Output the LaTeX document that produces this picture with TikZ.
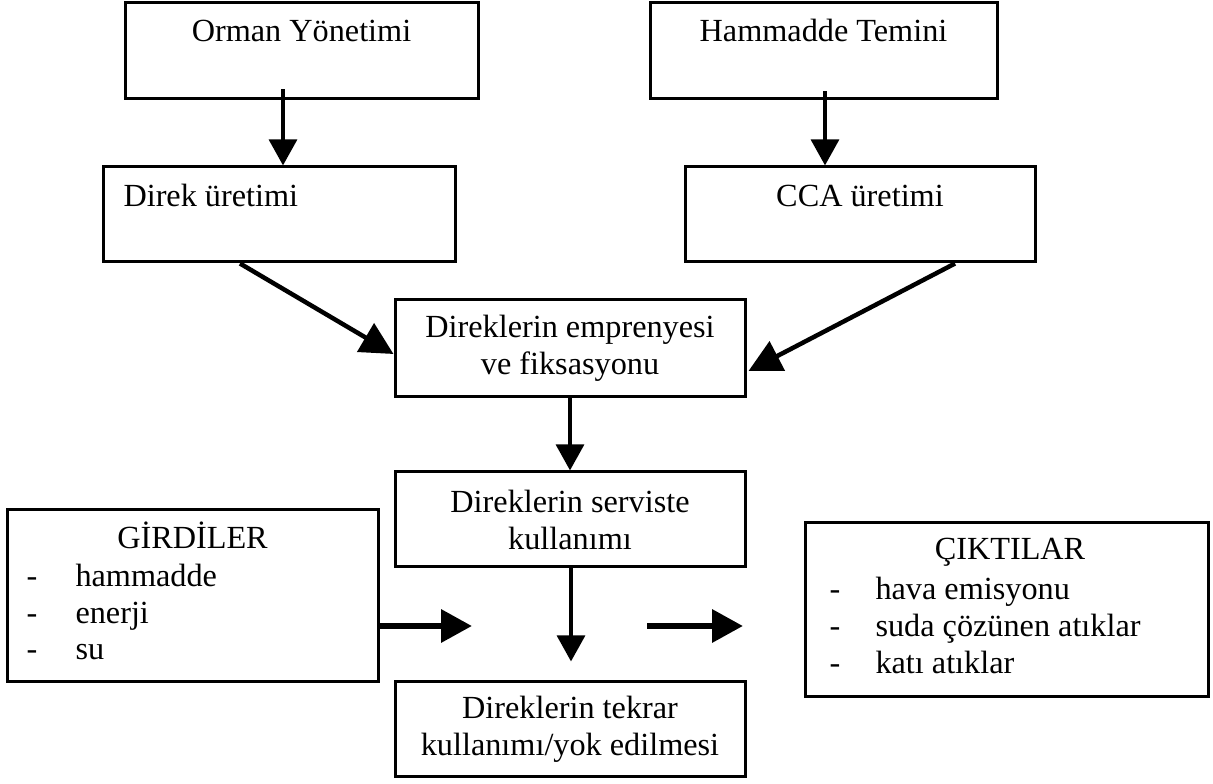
\documentclass[tikz,border=0pt]{standalone}
\usepackage{fontspec}
\setmainfont{Liberation Serif}
\usetikzlibrary{arrows.meta}

\tikzset{
  pbox/.style 2 args={draw, line width=1.2pt, minimum width=#1*0.4pt, minimum height=#2*0.4pt, inner sep=0pt},
  txt/.style={font=\fontsize{12.9}{14.8}\selectfont, inner sep=0pt, text height=8pt, text depth=2.5pt},
  mtxt/.style={font=\fontsize{12.9}{14.8}\selectfont, align=center},
  varr/.style={line width=1.8pt, -{Triangle[length=10.4pt,width=11pt]}},
  darr/.style={line width=1.8pt, -{Triangle[length=13pt,width=13pt]}},
  harr/.style={line width=2.6pt, -{Triangle[length=12.4pt,width=12.8pt]}},
}

\begin{document}
\begin{tikzpicture}[x=0.4pt,y=-0.4pt]
\useasboundingbox (0,0) rectangle (1213,784);

% upper row
\node[pbox={353}{96}] (orman) at (301.5,51) {};
\node[txt] (ormanT) at (301.5,35) {Orman Yönetimi};
\node[pbox={347}{96}] (hammadde) at (823.5,51) {};
\node[txt] (hammaddeT) at (823.5,35) {Hammadde Temini};

\node[pbox={352}{95}] (direk) at (279,214.5) {};
\node[txt, anchor=west] (direkT) at (123,200) {Direk üretimi};
\node[pbox={350}{95}] (cca) at (860,214.5) {};
\node[txt] (ccaT) at (860,200) {CCA üretimi};

% middle column
\node[pbox={350}{97}, mtxt] (empren) at (570,348.5) {Direklerin emprenyesi\\ve fiksasyonu};
\node[pbox={350}{95}, mtxt] (servis) at (570,519.5) {Direklerin serviste\\kullanımı};
\node[pbox={350}{95}, mtxt] (tekrar) at (570,729.5) {Direklerin tekrar\\kullanımı/yok edilmesi};

% inputs
\node[pbox={371}{172}] (girdi) at (192.5,596) {};
\node[txt] (girdiT) at (192.5,542) {GİRDİLER};
\node[txt] (gd1) at (32,580) {-};
\node[txt, anchor=west] (g1) at (75,580) {hammadde};
\node[txt] (gd2) at (32,617) {-};
\node[txt, anchor=west] (g2) at (75,617) {enerji};
\node[txt] (gd3) at (32,653) {-};
\node[txt, anchor=west] (g3) at (75,653) {su};

% outputs
\node[pbox={403}{174}] (cikti) at (1006.5,610) {};
\node[txt] (ciktiT) at (1010,553) {ÇIKTILAR};
\node[txt] (cd1) at (835,593) {-};
\node[txt, anchor=west] (c1) at (875,593) {hava emisyonu};
\node[txt] (cd2) at (835,630) {-};
\node[txt, anchor=west] (c2) at (875,630) {suda çözünen atıklar};
\node[txt] (cd3) at (835,667) {-};
\node[txt, anchor=west] (c3) at (875,667) {katı atıklar};

% connectors
\coordinate (ormanOut) at ([xshift=-7.4pt,yshift=4.4pt]orman.south);
\draw[varr] (ormanOut) -- (ormanOut |- direk.north);
\coordinate (hammaddeOut) at ([xshift=0.6pt,yshift=3.6pt]hammadde.south);
\draw[varr] (hammaddeOut) -- (hammaddeOut |- cca.north);

\draw[darr] ([xshift=-15.6pt]direk.south) -- ([yshift=-2.2pt]empren.west);
\draw[darr] ([xshift=38pt]cca.south) -- ([xshift=0.8pt,yshift=-9pt]empren.east);

\draw[varr] (empren.south) -- (servis.north);
\draw[varr] ([xshift=0.4pt]servis.south) -- ([xshift=0.4pt,yshift=7.6pt]tekrar.north);

\coordinate (girdiTip) at (472,626);
\draw[harr] (girdiTip -| girdi.east) -- (girdiTip);
\coordinate (ciktiTail) at (647,626);
\coordinate (ciktiTip) at (743,626);
\draw[harr] (ciktiTail) -- (ciktiTip);
\end{tikzpicture}
\end{document}
